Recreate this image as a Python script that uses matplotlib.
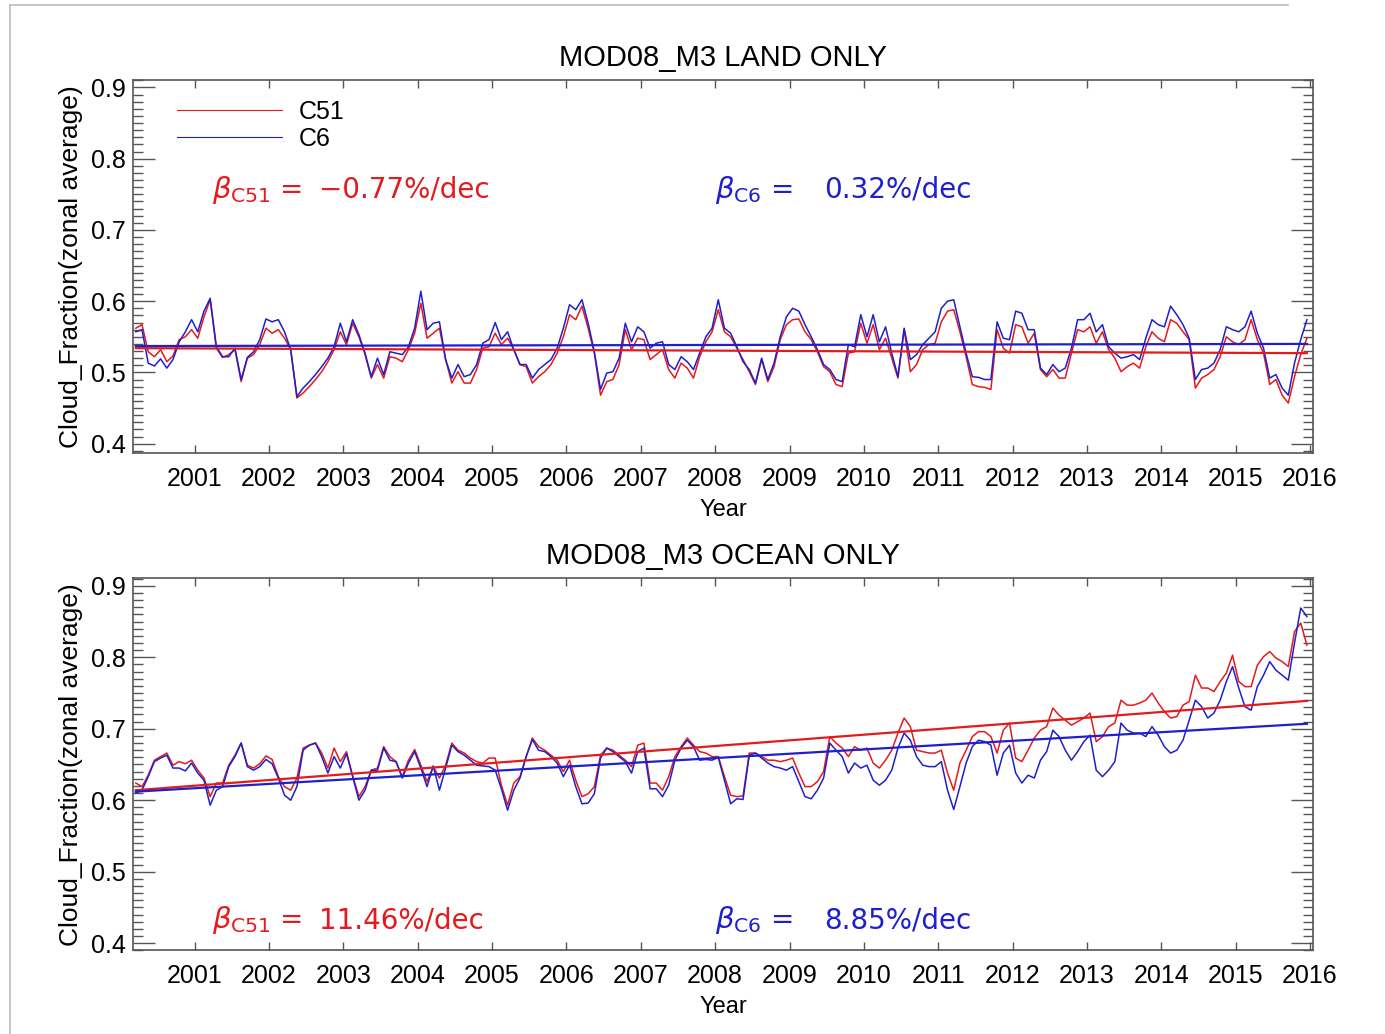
import numpy as np
import matplotlib
matplotlib.use('Agg')
import matplotlib.pyplot as plt
from matplotlib.ticker import MultipleLocator
from matplotlib.lines import Line2D

plt.rcParams['font.family'] = ['Liberation Sans', 'DejaVu Sans']
plt.rcParams['mathtext.fontset'] = 'dejavusans'

# monthly cloud fraction, Mar 2000 .. Dec 2015 (190 months)
land_c51 = [
    0.562, 0.567, 0.529, 0.522, 0.532, 0.515, 0.523, 0.546, 0.550, 0.560,
    0.548, 0.578, 0.602, 0.534, 0.521, 0.525, 0.532, 0.487, 0.520, 0.525,
    0.539, 0.562, 0.555, 0.560, 0.548, 0.532, 0.464, 0.471, 0.480, 0.490,
    0.501, 0.515, 0.532, 0.557, 0.539, 0.569, 0.550, 0.525, 0.492, 0.511,
    0.492, 0.522, 0.520, 0.515, 0.532, 0.555, 0.597, 0.548, 0.555, 0.562,
    0.518, 0.485, 0.501, 0.485, 0.485, 0.504, 0.534, 0.536, 0.555, 0.539,
    0.548, 0.532, 0.511, 0.508, 0.485, 0.494, 0.501, 0.511, 0.527, 0.550,
    0.581, 0.574, 0.593, 0.562, 0.527, 0.468, 0.487, 0.490, 0.511, 0.560,
    0.532, 0.548, 0.546, 0.518, 0.525, 0.532, 0.504, 0.492, 0.513, 0.506,
    0.492, 0.522, 0.543, 0.557, 0.588, 0.557, 0.550, 0.534, 0.518, 0.501,
    0.483, 0.518, 0.487, 0.508, 0.546, 0.567, 0.574, 0.575, 0.557, 0.546,
    0.529, 0.508, 0.501, 0.483, 0.480, 0.527, 0.529, 0.569, 0.541, 0.567,
    0.532, 0.548, 0.520, 0.492, 0.560, 0.501, 0.511, 0.532, 0.539, 0.541,
    0.571, 0.586, 0.588, 0.557, 0.522, 0.483, 0.480, 0.479, 0.476, 0.560,
    0.534, 0.527, 0.567, 0.564, 0.541, 0.555, 0.504, 0.494, 0.504, 0.492,
    0.492, 0.527, 0.560, 0.557, 0.564, 0.541, 0.557, 0.532, 0.520, 0.501,
    0.508, 0.513, 0.506, 0.536, 0.557, 0.548, 0.543, 0.574, 0.569, 0.557,
    0.546, 0.478, 0.492, 0.497, 0.504, 0.522, 0.550, 0.543, 0.539, 0.546,
    0.574, 0.546, 0.527, 0.483, 0.490, 0.468, 0.457, 0.494, 0.525, 0.548,
]
land_c6 = [
    0.557, 0.560, 0.513, 0.509, 0.519, 0.506, 0.518, 0.543, 0.557, 0.574,
    0.557, 0.586, 0.604, 0.536, 0.522, 0.522, 0.534, 0.490, 0.521, 0.529,
    0.546, 0.575, 0.571, 0.574, 0.557, 0.532, 0.466, 0.478, 0.487, 0.497,
    0.508, 0.520, 0.536, 0.569, 0.543, 0.574, 0.553, 0.527, 0.494, 0.520,
    0.497, 0.529, 0.527, 0.525, 0.536, 0.562, 0.614, 0.560, 0.569, 0.571,
    0.518, 0.492, 0.511, 0.494, 0.497, 0.511, 0.541, 0.546, 0.570, 0.546,
    0.557, 0.532, 0.511, 0.511, 0.492, 0.504, 0.511, 0.518, 0.534, 0.562,
    0.595, 0.588, 0.602, 0.569, 0.529, 0.476, 0.499, 0.501, 0.520, 0.569,
    0.543, 0.564, 0.557, 0.534, 0.541, 0.543, 0.511, 0.504, 0.522, 0.515,
    0.504, 0.527, 0.550, 0.562, 0.602, 0.562, 0.555, 0.536, 0.515, 0.504,
    0.485, 0.520, 0.490, 0.513, 0.550, 0.578, 0.590, 0.586, 0.567, 0.550,
    0.532, 0.511, 0.504, 0.490, 0.487, 0.539, 0.536, 0.581, 0.550, 0.581,
    0.543, 0.564, 0.527, 0.494, 0.562, 0.518, 0.525, 0.539, 0.548, 0.557,
    0.590, 0.600, 0.602, 0.564, 0.527, 0.494, 0.493, 0.490, 0.490, 0.571,
    0.548, 0.546, 0.586, 0.583, 0.560, 0.560, 0.506, 0.497, 0.511, 0.501,
    0.506, 0.534, 0.574, 0.574, 0.583, 0.557, 0.567, 0.536, 0.527, 0.520,
    0.522, 0.525, 0.518, 0.548, 0.574, 0.567, 0.564, 0.593, 0.581, 0.567,
    0.548, 0.490, 0.504, 0.506, 0.513, 0.532, 0.564, 0.560, 0.557, 0.564,
    0.586, 0.555, 0.534, 0.492, 0.497, 0.478, 0.468, 0.513, 0.546, 0.574,
]
ocean_c51 = [
    0.624, 0.619, 0.635, 0.656, 0.661, 0.666, 0.649, 0.654, 0.651, 0.656,
    0.642, 0.631, 0.605, 0.624, 0.624, 0.649, 0.663, 0.680, 0.649, 0.645,
    0.651, 0.662, 0.657, 0.633, 0.619, 0.614, 0.631, 0.673, 0.677, 0.680,
    0.666, 0.645, 0.673, 0.654, 0.668, 0.634, 0.605, 0.619, 0.642, 0.645,
    0.675, 0.661, 0.654, 0.633, 0.656, 0.671, 0.649, 0.626, 0.647, 0.631,
    0.649, 0.680, 0.670, 0.666, 0.659, 0.654, 0.652, 0.659, 0.659, 0.621,
    0.593, 0.624, 0.633, 0.661, 0.687, 0.675, 0.670, 0.663, 0.656, 0.640,
    0.656, 0.628, 0.605, 0.609, 0.619, 0.663, 0.673, 0.670, 0.663, 0.656,
    0.647, 0.677, 0.680, 0.624, 0.624, 0.614, 0.633, 0.661, 0.675, 0.687,
    0.677, 0.668, 0.666, 0.661, 0.661, 0.633, 0.607, 0.605, 0.606, 0.666,
    0.666, 0.661, 0.656, 0.656, 0.654, 0.656, 0.659, 0.638, 0.619, 0.619,
    0.626, 0.640, 0.689, 0.680, 0.673, 0.661, 0.675, 0.670, 0.673, 0.652,
    0.645, 0.656, 0.670, 0.694, 0.715, 0.703, 0.670, 0.668, 0.666, 0.666,
    0.670, 0.638, 0.614, 0.652, 0.670, 0.689, 0.696, 0.696, 0.689, 0.666,
    0.698, 0.708, 0.659, 0.654, 0.670, 0.687, 0.698, 0.703, 0.729, 0.719,
    0.712, 0.705, 0.710, 0.715, 0.722, 0.682, 0.689, 0.703, 0.708, 0.740,
    0.733, 0.733, 0.736, 0.740, 0.750, 0.736, 0.724, 0.715, 0.717, 0.733,
    0.738, 0.775, 0.757, 0.757, 0.752, 0.766, 0.778, 0.803, 0.766, 0.759,
    0.759, 0.789, 0.801, 0.808, 0.799, 0.794, 0.787, 0.836, 0.848, 0.817,
]
ocean_c6 = [
    0.610, 0.614, 0.633, 0.654, 0.659, 0.663, 0.645, 0.645, 0.641, 0.652,
    0.638, 0.628, 0.593, 0.614, 0.619, 0.647, 0.661, 0.680, 0.647, 0.642,
    0.647, 0.657, 0.651, 0.631, 0.607, 0.600, 0.619, 0.670, 0.677, 0.680,
    0.661, 0.638, 0.661, 0.645, 0.665, 0.633, 0.600, 0.614, 0.642, 0.642,
    0.673, 0.656, 0.654, 0.631, 0.652, 0.668, 0.645, 0.619, 0.648, 0.614,
    0.645, 0.677, 0.668, 0.663, 0.656, 0.649, 0.648, 0.647, 0.642, 0.616,
    0.586, 0.614, 0.631, 0.661, 0.685, 0.670, 0.668, 0.661, 0.652, 0.633,
    0.649, 0.619, 0.595, 0.596, 0.609, 0.659, 0.673, 0.668, 0.661, 0.654,
    0.638, 0.668, 0.673, 0.616, 0.616, 0.605, 0.621, 0.656, 0.673, 0.684,
    0.675, 0.656, 0.657, 0.656, 0.660, 0.628, 0.595, 0.602, 0.601, 0.663,
    0.666, 0.659, 0.652, 0.647, 0.645, 0.642, 0.647, 0.626, 0.605, 0.602,
    0.614, 0.631, 0.680, 0.670, 0.661, 0.638, 0.652, 0.645, 0.649, 0.628,
    0.621, 0.628, 0.642, 0.673, 0.694, 0.684, 0.661, 0.649, 0.647, 0.647,
    0.654, 0.614, 0.587, 0.619, 0.652, 0.675, 0.684, 0.682, 0.677, 0.635,
    0.666, 0.677, 0.638, 0.624, 0.635, 0.631, 0.656, 0.668, 0.698, 0.689,
    0.670, 0.656, 0.668, 0.682, 0.691, 0.642, 0.633, 0.642, 0.654, 0.708,
    0.698, 0.694, 0.694, 0.689, 0.703, 0.691, 0.675, 0.666, 0.670, 0.684,
    0.712, 0.740, 0.731, 0.715, 0.722, 0.740, 0.766, 0.787, 0.757, 0.731,
    0.726, 0.759, 0.775, 0.794, 0.782, 0.775, 0.768, 0.820, 0.869, 0.857,
]

# linear trend end values (first month, last month)
land_trend_c51 = [0.534, 0.527]
land_trend_c6 = [0.537, 0.540]
ocean_trend_c51 = [0.614, 0.739]
ocean_trend_c6 = [0.612, 0.707]

land_beta = ['\u22120.77%/dec', '0.32%/dec']
ocean_beta = ['11.46%/dec', '8.85%/dec']

year_ticks = list(range(2001, 2017))

months = 2000 + (np.arange(len(land_c51)) + 2.5) / 12.0

RED = '#e41a1c'
BLUE = '#1f1fcc'
AXC = '#555555'
BFONT = ['DejaVu Sans']

fig = plt.figure(figsize=(13.85, 10.34), dpi=100)
ax1 = fig.add_axes([0.096, 0.562, 0.852, 0.361])
ax2 = fig.add_axes([0.096, 0.081, 0.852, 0.360])


def style(ax, title, ymin):
    ax.set_xlim(2000.17, 2016.04)
    ax.set_ylim(ymin, 0.911)
    ax.set_xticks(year_ticks)
    ax.set_xticklabels([str(y) for y in year_ticks])
    ax.yaxis.set_major_locator(MultipleLocator(0.1))
    ax.yaxis.set_minor_locator(MultipleLocator(0.01))
    ax.set_yticklabels(['%.1f' % v for v in ax.get_yticks()])
    ax.tick_params(axis='y', which='major', direction='in', length=16,
                   width=1.0, color=AXC, left=True, right=True,
                   labelsize=18, pad=5)
    ax.tick_params(axis='y', which='minor', direction='in', length=7,
                   width=1.0, color=AXC, left=True, right=True)
    ax.tick_params(axis='x', which='major', direction='in', length=6,
                   width=1.0, color=AXC, top=True, bottom=True,
                   labelsize=18, pad=10)
    for s in ax.spines.values():
        s.set_color(AXC)
        s.set_linewidth(1.2)
    ax.set_title(title, fontsize=21, pad=10)
    ax.set_xlabel('Year', fontsize=17, labelpad=6)
    ax.set_ylabel('Cloud_Fraction(zonal average)', fontsize=19, labelpad=6)


def beta(ax, y, tag, val, color, x0):
    # offsets of "=" and the value after the beta symbol
    eq_dx, val_dx = (0.058, 0.091) if tag == 'C51' else (0.048, 0.093)
    ax.text(x0, y, r'$\beta_{\mathrm{%s}}$' % tag, transform=ax.transAxes,
            color=color, fontsize=21, va='baseline', family=BFONT)
    ax.text(x0 + eq_dx, y, '=', transform=ax.transAxes, color=color,
            fontsize=20, va='baseline', family=BFONT)
    ax.text(x0 + val_dx, y, val, transform=ax.transAxes, color=color,
            fontsize=20, va='baseline', family=BFONT)


# land panel
ax1.plot(months, land_c51, color=RED, lw=1.1, label='C51')
ax1.plot(months, land_c6, color=BLUE, lw=1.1, label='C6')
ax1.plot([months[0], months[-1]], land_trend_c51, color=RED, lw=1.6)
ax1.plot([months[0], months[-1]], land_trend_c6, color=BLUE, lw=1.6)
style(ax1, 'MOD08_M3 LAND ONLY', 0.387)
beta(ax1, 0.684, 'C51', land_beta[0], RED, 0.067)
beta(ax1, 0.684, 'C6', land_beta[1], BLUE, 0.493)
leg = ax1.legend(loc='upper left', bbox_to_anchor=(0.037, 0.945),
                 frameon=False, fontsize=18, handlelength=4.2,
                 handletextpad=0.7, labelspacing=0.1, borderpad=0,
                 borderaxespad=0)
for h in leg.get_lines():
    h.set_linewidth(0.8)

# ocean panel
ax2.plot(months, ocean_c51, color=RED, lw=1.1)
ax2.plot(months, ocean_c6, color=BLUE, lw=1.1)
ax2.plot([months[0], months[-1]], ocean_trend_c51, color=RED, lw=1.6)
ax2.plot([months[0], months[-1]], ocean_trend_c6, color=BLUE, lw=1.6)
style(ax2, 'MOD08_M3 OCEAN ONLY', 0.390)
beta(ax2, 0.059, 'C51', ocean_beta[0], RED, 0.067)
beta(ax2, 0.059, 'C6', ocean_beta[1], BLUE, 0.493)

# thin grey frame of the screenshot
fig.add_artist(Line2D([0.007, 0.93], [0.995, 0.995], color='#bbbbbb', lw=1.2))
fig.add_artist(Line2D([0.007, 0.007], [0.0, 0.995], color='#bbbbbb', lw=1.2))

fig.savefig('out.png', dpi=100)
